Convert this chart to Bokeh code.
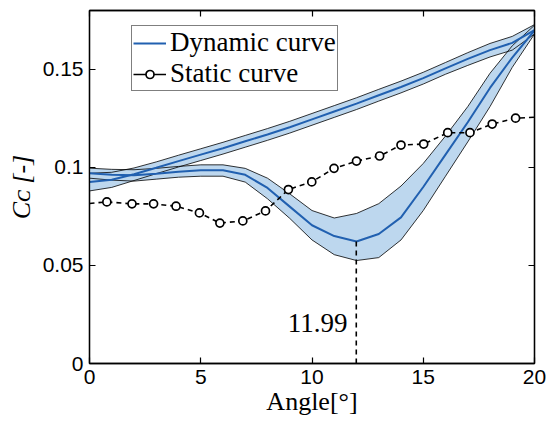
import math
from bokeh.plotting import figure
from bokeh.models import (Range1d, FixedTicker, LinearAxis, CustomJSTickFormatter,
                          Legend, LegendItem, Label, ColumnDataSource)
from bokeh.embed import file_html
from bokeh.resources import INLINE

# ---------------- data ----------------
dyn_angle = [0, 1, 2, 3, 4, 5, 6, 7, 8, 9, 10, 11, 12, 13, 14, 15, 16, 17, 18, 19, 20]

# upper (nearly linear) branch of the dynamic loop
dyn_up_mean = [0.0925, 0.0937, 0.0965, 0.0998, 0.1032, 0.1065, 0.1098, 0.1133, 0.1168, 0.1205, 0.1245,
               0.1285, 0.1325, 0.1368, 0.1410, 0.1455, 0.1505, 0.1553, 0.1598, 0.1635, 0.1700]
dyn_up_hi = [0.0970, 0.0975, 0.0997, 0.1028, 0.1062, 0.1095, 0.1128, 0.1163, 0.1198, 0.1235, 0.1275,
             0.1315, 0.1355, 0.1398, 0.1440, 0.1485, 0.1535, 0.1585, 0.1632, 0.1668, 0.1728]
dyn_up_lo = [0.0880, 0.0898, 0.0933, 0.0968, 0.1002, 0.1035, 0.1068, 0.1103, 0.1138, 0.1175, 0.1215,
             0.1255, 0.1295, 0.1338, 0.1380, 0.1425, 0.1475, 0.1520, 0.1563, 0.1598, 0.1680]

# lower branch of the dynamic loop (with the dip)
dyn_dn_mean = [0.0970, 0.0962, 0.0960, 0.0968, 0.0978, 0.0985, 0.0985, 0.0962, 0.0895, 0.0800, 0.0705,
               0.0650, 0.0622, 0.0660, 0.0745, 0.0900, 0.1065, 0.1230, 0.1405, 0.1560, 0.1698]
dyn_dn_hi = [0.0996, 0.0990, 0.0988, 0.0995, 0.1005, 0.1013, 0.1013, 0.0995, 0.0945, 0.0865, 0.0780,
             0.0742, 0.0765, 0.0815, 0.0905, 0.1020, 0.1160, 0.1310, 0.1480, 0.1620, 0.1725]
dyn_dn_lo = [0.0945, 0.0935, 0.0930, 0.0940, 0.0950, 0.0955, 0.0955, 0.0925, 0.0840, 0.0740, 0.0630,
             0.0555, 0.0525, 0.0540, 0.0630, 0.0780, 0.0955, 0.1130, 0.1310, 0.1510, 0.1680]

static_angle = [0, 0.78, 1.91, 2.88, 3.89, 4.94, 5.86, 6.89, 7.91, 8.94, 9.99, 10.99, 12.0, 13.04,
                14.0, 15.02, 16.1, 17.1, 18.1, 19.15, 20]
static_cc = [0.0816, 0.0824, 0.0814, 0.0814, 0.0802, 0.0768, 0.0716, 0.0727, 0.0778, 0.0887, 0.0926,
             0.0995, 0.1032, 0.1058, 0.1114, 0.1119, 0.1177, 0.1177, 0.1221, 0.1251, 0.1256]

min_angle = 11.99
min_label = "11.99"
x_ticks = [0, 5, 10, 15, 20]
y_ticks = [0, 0.05, 0.1, 0.15]

# ---------------- styling ----------------
FILL = "#bdd7ee"
BLUE = "#2160b0"
SERIF = "Liberation Serif"
SANS = "Liberation Sans"

p = figure(width=549, height=426, output_backend="svg", toolbar_location=None,
           x_range=Range1d(0, 20), y_range=Range1d(0, 0.18),
           min_border_left=89, min_border_right=15, min_border_top=10, min_border_bottom=63)
p.grid.visible = False
p.outline_line_color = "black"
p.outline_line_width = 1.3

fmt = CustomJSTickFormatter(code="return tick == 0 ? '0' : String(Math.round(tick*100)/100);")
blank = CustomJSTickFormatter(code="return '';")

for ax, ticks in ((p.xaxis[0], x_ticks), (p.yaxis[0], y_ticks)):
    ax.ticker = FixedTicker(ticks=ticks)
    ax.formatter = fmt
    ax.major_tick_in = 6
    ax.major_tick_out = 0
    ax.minor_tick_line_color = None
    ax.axis_line_width = 1.3
    ax.major_tick_line_width = 1.2
    ax.major_label_text_font = SANS
    ax.major_label_text_font_size = "21px"
    ax.major_label_text_color = "black"
    ax.axis_label_text_color = "black"

p.xaxis.major_label_standoff = 6
p.yaxis.major_label_standoff = 6
p.xaxis.axis_label = "Angle[°]"
p.xaxis.axis_label_text_font = SERIF
p.xaxis.axis_label_text_font_style = "normal"
p.xaxis.axis_label_text_font_size = "26px"
p.xaxis.axis_label_standoff = 0

p.yaxis.axis_label = "Cᴄ [-]"
p.yaxis.axis_label_text_font = SERIF
p.yaxis.axis_label_text_font_style = "italic"
p.yaxis.axis_label_text_font_size = "26px"
p.yaxis.axis_label_standoff = 4

# mirrored axes (ticks only)
for loc, ticks in (("above", x_ticks), ("right", y_ticks)):
    a = LinearAxis(ticker=FixedTicker(ticks=ticks), formatter=blank,
                   major_label_standoff=0, major_tick_in=6, major_tick_out=0,
                   minor_tick_line_color=None, axis_line_width=1.3, major_tick_line_width=1.2)
    p.add_layout(a, loc)

src = ColumnDataSource(dict(x=dyn_angle, up_m=dyn_up_mean, up_h=dyn_up_hi, up_l=dyn_up_lo,
                            dn_m=dyn_dn_mean, dn_h=dyn_dn_hi, dn_l=dyn_dn_lo))

# bands
p.varea(x="x", y1="up_l", y2="up_h", source=src, fill_color=FILL)
p.varea(x="x", y1="dn_l", y2="dn_h", source=src, fill_color=FILL)
for col in ("up_h", "up_l", "dn_h", "dn_l"):
    p.line(x="x", y=col, source=src, line_color="black", line_width=0.8)
dyn_r = p.line(x="x", y="up_m", source=src, line_color=BLUE, line_width=2)
p.line(x="x", y="dn_m", source=src, line_color=BLUE, line_width=2)

# minimum marker
min_cc = min(dyn_dn_mean)
p.line(x=[min_angle, min_angle], y=[0, min_cc], line_color="black", line_width=1.6, line_dash="5 4")
p.add_layout(Label(x=min_angle - 0.4, y=0.0208, text=min_label, text_font=SERIF,
                   text_font_size="27px", text_align="right", text_baseline="middle",
                   text_color="black"))

# static curve
p.line(x=static_angle, y=static_cc, line_color="black", line_width=1.6, line_dash="5 4")
p.scatter(x=static_angle[1:-1], y=static_cc[1:-1], marker="circle", size=8,
          fill_color="white", line_color="black", line_width=1.7)

# legend proxies (solid line + marker, as in the reference key)
nan = float("nan")
leg_line = p.line(x=[nan], y=[nan], line_color="black", line_width=1.6)
leg_circ = p.scatter(x=[nan], y=[nan], marker="circle", size=8, fill_color="white",
                     line_color="black", line_width=1.7)

legend = Legend(items=[LegendItem(label="Dynamic curve", renderers=[dyn_r]),
                       LegendItem(label="Static curve", renderers=[leg_line, leg_circ])],
                location=(42, 272), label_text_font=SERIF, label_text_font_size="27px",
                label_text_color="black",
                glyph_width=33, glyph_height=20, label_height=20, label_standoff=4,
                spacing=-6, padding=1, margin=0, border_line_color="black",
                border_line_width=1.2, background_fill_alpha=1)
p.add_layout(legend, "center")

open("out.html", "w").write(file_html(p, INLINE))
